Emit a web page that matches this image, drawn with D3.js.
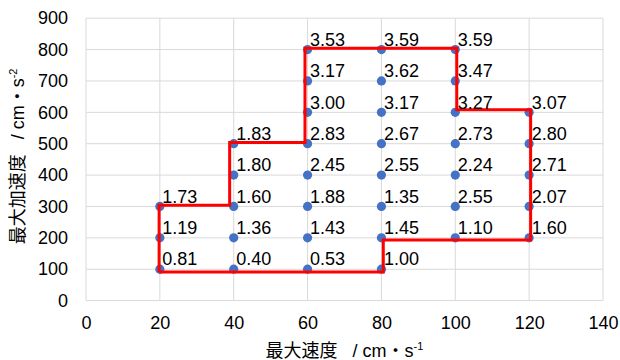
<!DOCTYPE html>
<html><head><meta charset="utf-8">
<script src="https://cdn.jsdelivr.net/npm/d3@7"></script>
<style>
html,body{margin:0;padding:0;background:#fff;}
svg{display:block;font-family:"Liberation Sans",Arial,"Noto Sans CJK JP",sans-serif;}
.title{white-space:pre;}
</style></head><body>
<svg id="chart" width="620" height="360"></svg>
<script>
// Columns of points: x speed, y accelerations and their labels
const speeds = [20, 40, 60, 80, 100, 120];
const accelLevels = [
  [100, 200, 300],
  [100, 200, 300, 400, 500],
  [100, 200, 300, 400, 500, 600, 700, 800],
  [100, 200, 300, 400, 500, 600, 700, 800],
  [200, 300, 400, 500, 600, 700, 800],
  [200, 300, 400, 500, 600]
];
const labelValues = [
  ["0.81", "1.19", "1.73"],
  ["0.40", "1.36", "1.60", "1.80", "1.83"],
  ["0.53", "1.43", "1.88", "2.45", "2.83", "3.00", "3.17", "3.53"],
  ["1.00", "1.45", "1.35", "2.55", "2.67", "3.17", "3.62", "3.59"],
  ["1.10", "2.55", "2.24", "2.73", "3.27", "3.47", "3.59"],
  ["1.60", "2.07", "2.71", "2.80", "3.07"]
];
// Red boundary (speed, acceleration)
const boundaryX = [19.8, 19.8, 38.9, 38.9, 59.3, 59.3, 100.4, 100.4, 120.4, 120.4, 80.5, 80.5, 19.8];
const boundaryY = [91, 304, 304, 504, 504, 804, 804, 608, 608, 193, 193, 91, 91];
const xTicks = [0, 20, 40, 60, 80, 100, 120, 140];
const yTicks = [0, 100, 200, 300, 400, 500, 600, 700, 800, 900];

const svg = d3.select("#chart");
const x = d3.scaleLinear().domain([0, 140]).range([86, 603]);
const y = d3.scaleLinear().domain([0, 900]).range([300.6, 18.2]);

// gridlines
const grid = svg.append("g");
grid.selectAll("line.v").data(xTicks).join("line")
  .attr("x1", d => x(d)).attr("x2", d => x(d))
  .attr("y1", y(0)).attr("y2", y(900))
  .attr("stroke", "#d9d9d9").attr("stroke-width", 1);
grid.selectAll("line.h").data(yTicks).join("line")
  .attr("y1", d => y(d)).attr("y2", d => y(d))
  .attr("x1", x(0)).attr("x2", x(140))
  .attr("stroke", "#d9d9d9").attr("stroke-width", 1);

// axes via d3 axis, with domain/tick lines hidden
const xAxis = svg.append("g").attr("transform", `translate(0,${y(0)})`)
  .call(d3.axisBottom(x).tickValues(xTicks).tickSize(0).tickPadding(16));
const yAxis = svg.append("g").attr("transform", `translate(${x(0)},0)`)
  .call(d3.axisLeft(y).tickValues(yTicks).tickSize(0).tickPadding(18));
[xAxis, yAxis].forEach(a => {
  a.select(".domain").remove();
  a.selectAll("text").attr("font-size", 18).attr("fill", "#000")
    .attr("font-family", '"Liberation Sans",Arial,sans-serif');
});

// points
const pts = [];
speeds.forEach((s, i) => accelLevels[i].forEach((a, j) => pts.push({s, a, label: labelValues[i][j]})));

svg.append("g").selectAll("circle").data(pts).join("circle")
  .attr("cx", d => x(d.s)).attr("cy", d => y(d.a)).attr("r", 4.6)
  .attr("fill", "#4472C4");

// boundary
const bpts = boundaryX.map((bx, i) => [bx, boundaryY[i]]);
svg.append("path")
  .attr("d", d3.line().x(d => x(d[0])).y(d => y(d[1]))(bpts))
  .attr("fill", "none").attr("stroke", "#FF0000").attr("stroke-width", 3)
  .attr("stroke-linejoin", "miter");

// labels
svg.append("g").selectAll("text").data(pts).join("text")
  .attr("x", d => x(d.s) + 2.5).attr("y", d => y(d.a) - 3.8)
  .attr("font-size", 18).attr("fill", "#000")
  .text(d => d.label);

// axis titles
const xt = svg.append("text").attr("class", "title").attr("x", x(70)).attr("y", 357)
  .attr("text-anchor", "middle").attr("font-size", 18).attr("fill", "#000");
xt.append("tspan").text("最大速度   / cm・s");
xt.append("tspan").attr("font-size", 11).attr("dy", -7).text("-1");

const yt = svg.append("text").attr("class", "title")
  .attr("transform", `translate(24,${(y(0)+y(900))/2 - 3}) rotate(-90)`)
  .attr("text-anchor", "middle").attr("font-size", 18).attr("fill", "#000");
yt.append("tspan").text("最大加速度   / cm・s");
yt.append("tspan").attr("font-size", 11).attr("dy", -7).text("-2");
</script>
</body></html>
